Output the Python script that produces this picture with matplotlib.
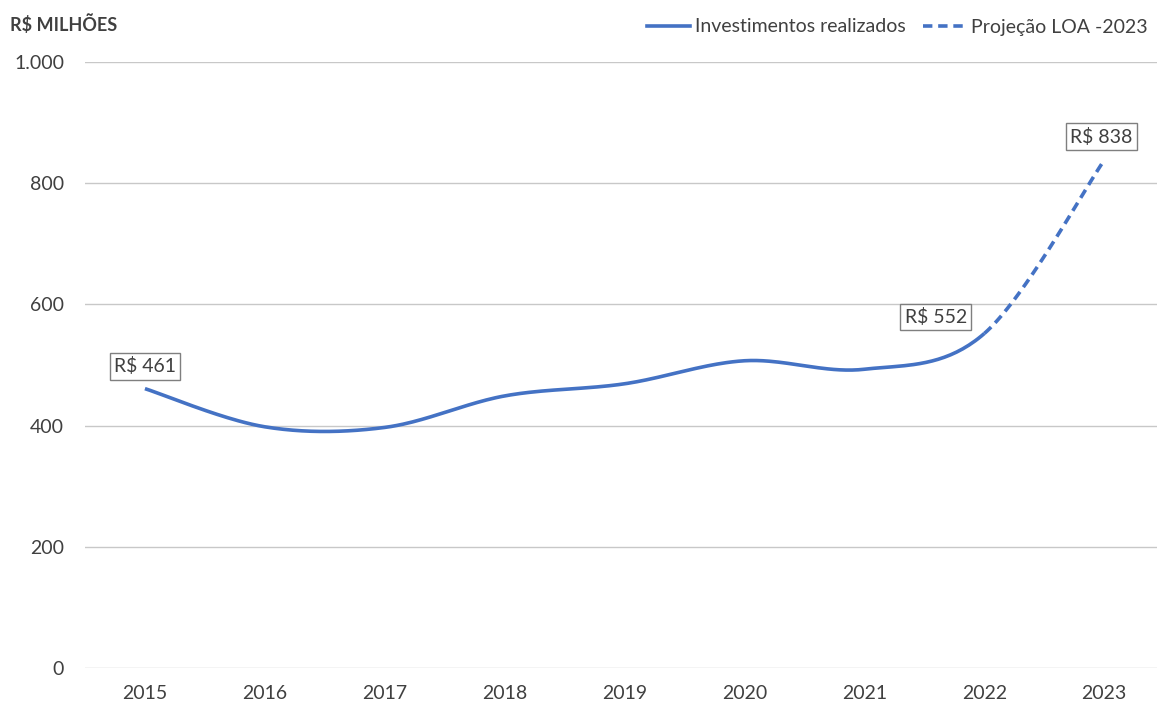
import matplotlib
matplotlib.use("Agg")
import matplotlib.pyplot as plt
import numpy as np
from matplotlib.lines import Line2D

plt.rcParams['font.family'] = ['Lato', 'DejaVu Sans']

years = [2015, 2016, 2017, 2018, 2019, 2020, 2021, 2022, 2023]
values = [461, 398, 397, 449, 469, 507, 493, 552, 838]
labelled = {2015: "R$ 461", 2022: "R$ 552", 2023: "R$ 838"}
label_offsets = {2015: (0, 16), 2022: (-35, 12), 2023: (-2, 17)}

BLUE = "#4472C4"
TXT = "#404040"


def smooth_segment(xs, ys, i, n=40):
    # bezier between point i and i+1, excel-ish smoothing
    k = len(xs)
    p0 = np.array([xs[max(i - 1, 0)], ys[max(i - 1, 0)]], float)
    p1 = np.array([xs[i], ys[i]], float)
    p2 = np.array([xs[i + 1], ys[i + 1]], float)
    p3 = np.array([xs[min(i + 2, k - 1)], ys[min(i + 2, k - 1)]], float)
    c1 = p1 + (p2 - p0) / 6
    c2 = p2 - (p3 - p1) / 6
    t = np.linspace(0, 1, n)[:, None]
    pts = ((1 - t) ** 3) * p1 + 3 * ((1 - t) ** 2) * t * c1 + 3 * (1 - t) * t ** 2 * c2 + t ** 3 * p2
    return pts[:, 0], pts[:, 1]


fig = plt.figure(figsize=(11.57, 7.03), dpi=100)
ax = fig.add_axes([85 / 1157, 1 - 668 / 703, 1 - 85 / 1157, (668 - 62) / 703])

solid_x, solid_y = [], []
for i in range(len(years) - 2):
    sx, sy = smooth_segment(years, values, i)
    solid_x.extend(sx)
    solid_y.extend(sy)
ax.plot(solid_x, solid_y, color=BLUE, lw=2.6, solid_capstyle='butt', zorder=3)
dx, dy = smooth_segment(years, values, len(years) - 2)
ax.plot(dx, dy, color=BLUE, lw=2.6, ls=(0, (2.6, 1.6)), zorder=3)

for yr, txt in labelled.items():
    v = values[years.index(yr)]
    ax.annotate(txt, (yr, v), xytext=label_offsets[yr], textcoords='offset points',
                ha='center', va='center', fontsize=14, color=TXT,
                bbox=dict(boxstyle='square,pad=0.22', fc='white', ec='#7f7f7f', lw=1),
                zorder=5)

ax.set_xlim(2014.5, 2023.44)
ax.set_ylim(0, 1000)
ax.set_xticks(years)
ax.set_xticklabels([str(y) for y in years])
ax.set_yticks([0, 200, 400, 600, 800, 1000])
ax.set_yticklabels(["0", "200", "400", "600", "800", "1.000"])
ax.yaxis.grid(True, color='#c8c8c8', lw=1)
ax.set_axisbelow(True)
for s in ax.spines.values():
    s.set_visible(False)
ax.tick_params(axis='both', length=0, labelsize=14, labelcolor=TXT)
ax.tick_params(axis='y', pad=15)
ax.tick_params(axis='x', pad=12)

fig.text(10 / 1157, 1 - 24 / 703, "R$ MILHÕES", fontsize=13, fontweight='bold',
         color=TXT, va='center', ha='left')

handles = [Line2D([], [], color=BLUE, lw=2.6),
           Line2D([], [], color=BLUE, lw=2.6, ls=(0, (2.6, 1.6)))]
fig.legend(handles, ["Investimentos realizados", "Projeção LOA -2023"],
           loc='center right', bbox_to_anchor=(1 - 2 / 1157, 1 - 27 / 703), ncol=2,
           frameon=False, fontsize=14, labelcolor=TXT, handlelength=2.2,
           handletextpad=0.25, columnspacing=0.9, borderaxespad=0)

fig.savefig("out.png", dpi=100)
